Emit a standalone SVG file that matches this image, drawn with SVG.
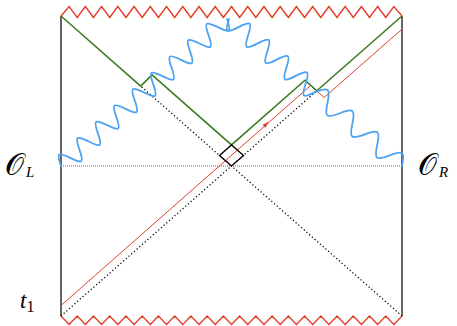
<svg xmlns="http://www.w3.org/2000/svg" width="457" height="326" viewBox="0 0 457 326">
<style>
.frame{fill:none;stroke:#000;stroke-width:1.2}
.sing{fill:none;stroke:#e2402b;stroke-width:1.4;stroke-linejoin:miter}
.dot{fill:none;stroke:#000;stroke-width:1.3;stroke-dasharray:1.2,2.4}
.hline{fill:none;stroke:#444;stroke-width:0.8;stroke-dasharray:1,1}
.hor{fill:none;stroke:#3a7a1e;stroke-width:1.5}
.sig{fill:none;stroke:#e2402b;stroke-width:1}
.wave{fill:none;stroke:#4ba3f2;stroke-width:1.8;stroke-linecap:round}
.box{fill:none;stroke:#000;stroke-width:1.3}
.lbl{font-family:"Liberation Serif","DejaVu Serif",serif;font-style:italic;fill:#000}
.cal{font-family:"DejaVu Serif","Liberation Serif",serif;font-style:normal}
</style>
<rect width="457" height="326" fill="#fff"/>
<g id="frame">
<path class="frame" d="M61,16V316M402,16V316"/>
<path class="sing" d="M61,16 l8.119,-9.5 8.119,11 8.119,-11 8.119,11 8.119,-11 8.119,11 8.119,-11 8.119,11 8.119,-11 8.119,11 8.119,-11 8.119,11 8.119,-11 8.119,11 8.119,-11 8.119,11 8.119,-11 8.119,11 8.119,-11 8.119,11 8.119,-11 8.119,11 8.119,-11 8.119,11 8.119,-11 8.119,11 8.119,-11 8.119,11 8.119,-11 8.119,11 8.119,-11 8.119,11 8.119,-11 8.119,11 8.119,-11 8.119,11 8.119,-11 8.119,11 8.119,-11 8.119,11 8.119,-11 8.119,9.5"/>
<path class="sing" d="M61,316 l8.119,8.5 8.119,-8.5 8.119,8.5 8.119,-8.5 8.119,8.5 8.119,-8.5 8.119,8.5 8.119,-8.5 8.119,8.5 8.119,-8.5 8.119,8.5 8.119,-8.5 8.119,8.5 8.119,-8.5 8.119,8.5 8.119,-8.5 8.119,8.5 8.119,-8.5 8.119,8.5 8.119,-8.5 8.119,8.5 8.119,-8.5 8.119,8.5 8.119,-8.5 8.119,8.5 8.119,-8.5 8.119,8.5 8.119,-8.5 8.119,8.5 8.119,-8.5 8.119,8.5 8.119,-8.5 8.119,8.5 8.119,-8.5 8.119,8.5 8.119,-8.5 8.119,8.5 8.119,-8.5 8.119,8.5 8.119,-8.5 8.119,8.5 8.119,-8.5"/>
</g>
<g id="connectors">
<path class="hline" d="M61,166H402"/>
<path class="dot" d="M61,316L316.8,90.8"/>
<path class="dot" d="M402,316L140.7,86.1"/>
<path class="sig" d="M61,305.5L310.6,85.6L324.2,97.5L402,29.1"/>
<path d="M269,121.6L262.6,124.7L265.4,127.9Z" fill="#e2402b"/>
<path class="hor" d="M61,16L140.7,86.1L152,74.9L231.5,144.9L305,80.2L316.8,90.8L402,16"/>
<path class="box" d="M231.5,166L219.5,155.4L231.5,144.9L243.5,155.4Z"/>
<g transform="translate(61,166) rotate(-41.52)">
<path class="wave" d="M0,0 c5.23,-13 7.09,-13 12.32,0 s7.09,13 12.32,0 s7.09,-13 12.32,0 s7.09,13 12.32,0 s7.09,-13 12.32,0 s7.09,13 12.32,0 s7.09,-13 12.32,0 s7.09,13 12.32,0 s7.09,-13 12.32,0 s7.09,13 12.32,0 s7.09,-13 12.32,0 s7.09,13 12.32,0 s7.09,-13 12.32,0 s7.09,13 12.32,0 s7.09,-13 12.32,0 s7.09,13 12.32,0 s7.09,-13 12.32,0 s7.09,13 12.32,0"/>
</g>
<g transform="translate(229,19) rotate(40.35)">
<path class="wave" d="M0,0 c5.33,13 7.22,13 12.55,0 s7.22,-13 12.55,0 s7.22,13 12.55,0 s7.22,-13 12.55,0 s7.22,13 12.55,0 s7.22,-13 12.55,0 s7.22,13 12.55,0 s7.22,-13 12.55,0 s7.22,13 12.55,0 c6.92,-13 9.38,-13 16.3,0 s9.38,13 16.3,0 s9.38,-13 16.3,0 s9.38,13 16.3,0 s9.38,-13 16.3,0 s9.38,13 16.3,0 s9.38,-13 16.3,0"/>
</g>
</g>
<g id="label-OL"><text class="lbl" y="175" font-size="15"><tspan class="cal" x="5" font-size="30">𝒪</tspan><tspan x="26" dy="2">L</tspan></text></g>
<g id="label-OR"><text class="lbl" y="175" font-size="15"><tspan class="cal" x="418" font-size="30">𝒪</tspan><tspan x="439" dy="2">R</tspan></text></g>
<g id="label-t1"><text class="lbl" x="20" y="308" font-size="23">t<tspan font-style="normal" font-size="16" dy="4">1</tspan></text></g>
</svg>
